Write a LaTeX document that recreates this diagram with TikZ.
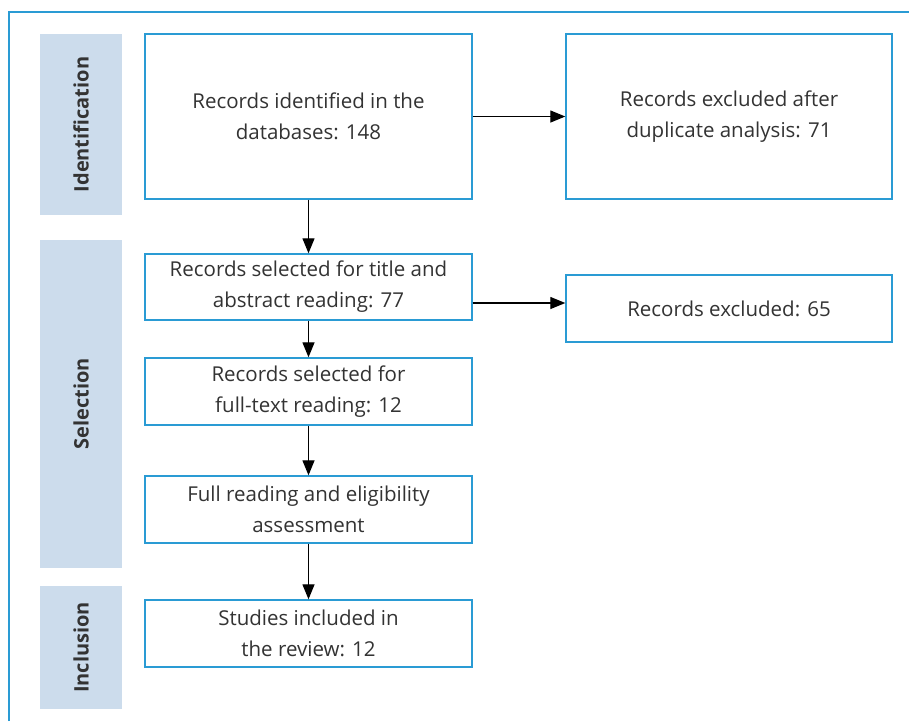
\documentclass[tikz,border=0pt]{standalone}
\usepackage{fontspec}
\setmainfont{Open Sans}
\usetikzlibrary{arrows.meta}
\definecolor{frameblue}{HTML}{2A9BD4}
\definecolor{bandfill}{HTML}{CCDCEC}
\definecolor{txt}{HTML}{333333}
\tikzset{
  stepbox/.style={draw=frameblue, line width=1.4pt, fill=white, text=txt,
    align=center, font=\fontsize{20.5}{31}\selectfont, inner sep=0pt},
  band/.style={fill=bandfill, draw=none},
  bandlabel/.style={rotate=90, text=txt, font=\fontsize{20}{24}\selectfont\bfseries},
  flow/.style={-{Triangle[length=15pt,width=12pt]}, line width=1.3pt, black},
}
\begin{document}
\begin{tikzpicture}[x=1pt,y=-1pt]
\useasboundingbox (0,0) rectangle (909,721);
% outer frame, open to the right and bottom
\draw[frameblue, line width=1.6pt] (9,721) -- (9,12) -- (909,12);

% phase bands
\fill[band] (40,34) rectangle (122,215);
\fill[band] (40,240) rectangle (122,568);
\fill[band] (40,586) rectangle (122,709);
\node[bandlabel] (lid) at (81,124.5) {Identification};
\node[bandlabel] (lsel) at (81,404) {Selection};
\node[bandlabel] (linc) at (81,647.5) {Inclusion};

% boxes
\node[stepbox, minimum width=327pt, minimum height=165pt] (ident) at (308.5,116.5)
  {Records identified in the\\databases: 148};
\node[stepbox, minimum width=326pt, minimum height=165pt] (dup) at (729,116.5)
  {Records excluded after\\duplicate analysis: 71};
\node[stepbox, minimum width=327pt, minimum height=66pt] (title) at (308.5,287)
  {Records selected for title and\\abstract reading: 77};
\node[stepbox, minimum width=326pt, minimum height=67pt] (excl) at (729,308.5)
  {Records excluded: 65};
\node[stepbox, minimum width=327pt, minimum height=67pt] (full) at (308.5,391.5)
  {Records selected for\\full-text reading: 12};
\node[stepbox, minimum width=327pt, minimum height=67pt] (elig) at (308.5,509.5)
  {Full reading and eligibility\\assessment};
\node[stepbox, minimum width=327pt, minimum height=67pt] (incl) at (308.5,633.5)
  {Studies included in\\the review: 12};

% connectors
\draw[flow] (ident.south) -- (title.north);
\draw[flow] (ident.east) -- (dup.west);
\draw[flow] (title.east |- 0,303) -- (excl.west |- 0,303);
\draw[flow] (title.south) -- (full.north);
\draw[flow] (full.south) -- (elig.north);
\draw[flow] (elig.south) -- (incl.north);
\end{tikzpicture}
\end{document}
